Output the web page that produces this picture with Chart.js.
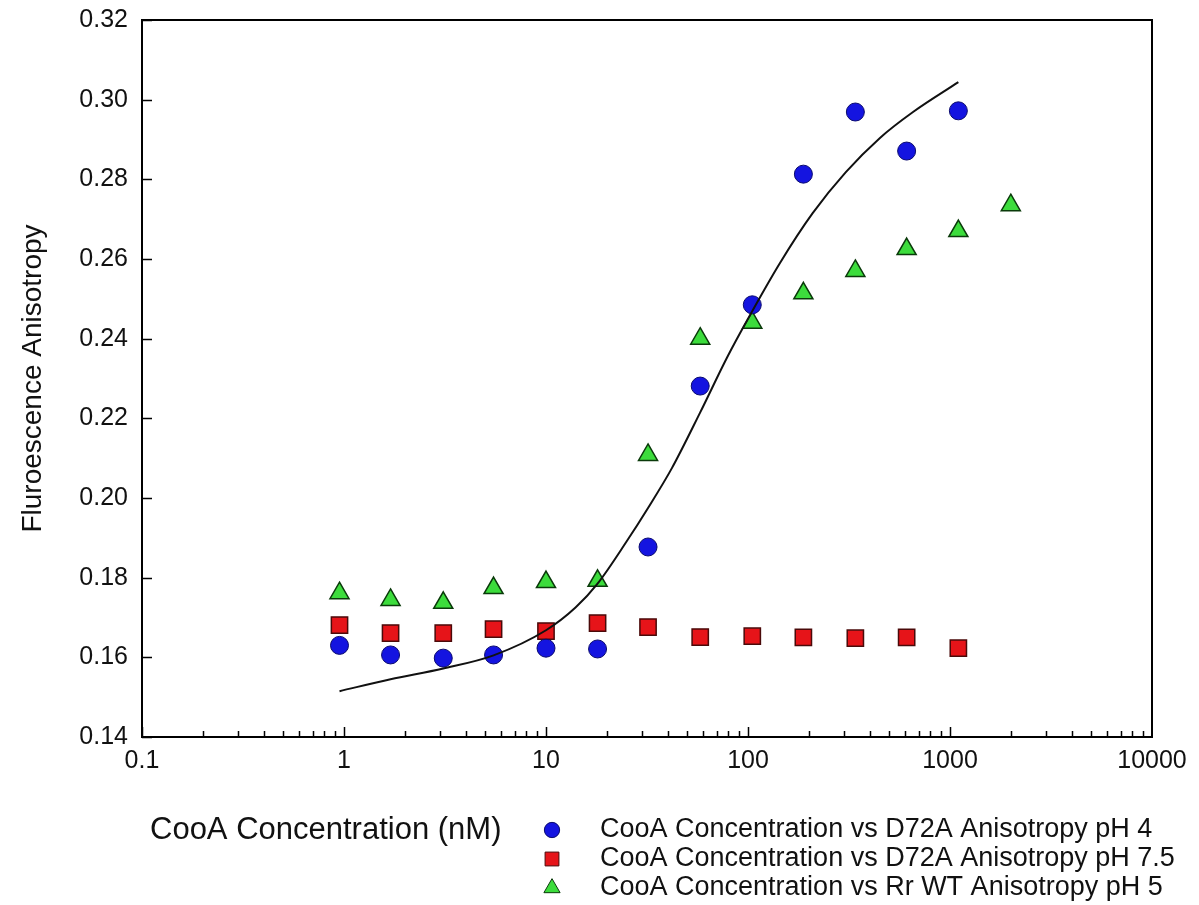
<!DOCTYPE html>
<html>
<head>
<meta charset="utf-8">
<script src="https://cdn.jsdelivr.net/npm/chart.js@4/dist/chart.umd.min.js"></script>
<style>
  html, body { margin: 0; padding: 0; background: #fff; }
</style>
</head>
<body>
<canvas id="myChart" width="1199" height="905"></canvas>
<script>
// concentrations (nM), dilution series
const conc = [0.95, 1.7, 3.1, 5.5, 10, 18, 32, 58, 105, 188, 340, 610, 1100];
const concWT = [0.95, 1.7, 3.1, 5.5, 10, 18, 32, 58, 105, 188, 340, 610, 1100, 2000];

const d72aPH4 = [0.1630, 0.1606, 0.1598, 0.1606, 0.1623, 0.1621, 0.1877, 0.2281, 0.2485, 0.2813, 0.2969, 0.2871, 0.2972];
const d72aPH75 = [0.1681, 0.1661, 0.1661, 0.1671, 0.1666, 0.1686, 0.1676, 0.1651, 0.1653, 0.1650, 0.1648, 0.1650, 0.1623];
const wtPH5 = [0.1761, 0.1744, 0.1737, 0.1774, 0.1789, 0.1792, 0.2108, 0.2400, 0.2440, 0.2514, 0.2570, 0.2625, 0.2670, 0.2735];

// fitted curve
const fitConc = [0.95, 1.7, 3.1, 5.5, 10, 14, 18, 25, 32, 42, 58, 79, 100, 144, 209, 305, 450, 656, 1100];
const fitAniso = [0.1515, 0.1545, 0.1572, 0.1605, 0.1668, 0.1725, 0.1785, 0.1890, 0.1975, 0.2075, 0.2215, 0.2354, 0.2450, 0.2590, 0.2715, 0.2818, 0.2904, 0.2969, 0.3044];

const xTicks = [0.1, 1, 10, 100, 1000, 10000];
const yTicks = [0.14, 0.16, 0.18, 0.20, 0.22, 0.24, 0.26, 0.28, 0.30, 0.32];

const legendLabels = [
  'CooA Concentration vs D72A Anisotropy pH 4',
  'CooA Concentration vs D72A Anisotropy pH 7.5',
  'CooA Concentration vs Rr WT Anisotropy pH 5'
];

function pts(xs, ys) {
  return xs.map((x, i) => ({ x: x, y: ys[i] }));
}

const framePlugin = {
  id: 'frame',
  afterDraw(chart) {
    const ctx = chart.ctx;
    const a = chart.chartArea;
    const xs = chart.scales.x;
    const ys = chart.scales.y;
    ctx.save();
    ctx.strokeStyle = '#000';
    ctx.lineWidth = 2;
    // top + right frame
    ctx.beginPath();
    ctx.moveTo(a.left, a.top);
    ctx.lineTo(a.right, a.top);
    ctx.lineTo(a.right, a.bottom);
    ctx.stroke();
    // inward ticks, y
    ctx.lineWidth = 1.5;
    ctx.beginPath();
    yTicks.forEach(v => {
      const py = Math.round(ys.getPixelForValue(v)) + 0.5;
      ctx.moveTo(a.left, py);
      ctx.lineTo(a.left + 10, py);
    });
    // inward ticks, x (decades long, the rest short)
    for (let d = 0.1; d < 10000; d *= 10) {
      for (let m = 1; m < 10; m++) {
        const v = d * m;
        const px = Math.round(xs.getPixelForValue(v)) + 0.5;
        const len = m === 1 ? 10 : 6;
        ctx.moveTo(px, a.bottom);
        ctx.lineTo(px, a.bottom - len);
      }
    }
    ctx.stroke();

    // x axis title + legend under the plot
    ctx.fillStyle = '#111';
    ctx.textBaseline = 'middle';
    ctx.textAlign = 'left';
    ctx.font = '31px "Liberation Sans", Arial, sans-serif';
    ctx.fillText('CooA Concentration (nM)', 150, 830);

    const rowY = [830, 859, 888];
    const sets = chart.data.datasets.filter(ds => ds.label !== 'fit');
    ctx.font = '27px "Liberation Sans", Arial, sans-serif';
    sets.forEach((ds, i) => {
      ctx.fillStyle = ds.backgroundColor;
      ctx.strokeStyle = ds.borderColor;
      ctx.lineWidth = 1;
      Chart.helpers.drawPoint(ctx, {
        pointStyle: ds.pointStyle,
        radius: ds.pointRadius * 0.85,
        rotation: 0,
        borderWidth: 1
      }, 552, rowY[i]);
      ctx.fillStyle = '#111';
      ctx.fillText(legendLabels[i], 600, rowY[i]);
    });
    ctx.restore();
  }
};

const ctx = document.getElementById('myChart');
const anisotropyChart = new Chart(ctx, {
  type: 'scatter',
  data: {
    datasets: [
      {
        label: 'fit',
        type: 'line',
        data: pts(fitConc, fitAniso),
        borderColor: '#111',
        borderWidth: 2,
        pointRadius: 0,
        cubicInterpolationMode: 'monotone',
        fill: false,
        order: 0
      },
      {
        label: legendLabels[0],
        data: pts(conc, d72aPH4),
        pointStyle: 'circle',
        pointRadius: 9,
        backgroundColor: '#1414e0',
        borderColor: '#0a0a6e',
        borderWidth: 1,
        order: 1
      },
      {
        label: legendLabels[1],
        data: pts(conc, d72aPH75),
        pointStyle: 'rect',
        pointRadius: 11.5,
        backgroundColor: '#e61419',
        borderColor: '#4a0a0a',
        borderWidth: 1.5,
        order: 1
      },
      {
        label: legendLabels[2],
        data: pts(concWT, wtPH5),
        pointStyle: 'triangle',
        pointRadius: 11,
        backgroundColor: '#3cdc3c',
        borderColor: '#0a3a0a',
        borderWidth: 1.5,
        order: 1
      }
    ]
  },
  options: {
    responsive: false,
    animation: false,
    devicePixelRatio: 1,
    layout: {
      padding: { top: 20, right: 47, bottom: 0, left: 0 }
    },
    plugins: {
      legend: { display: false },
      tooltip: { enabled: false }
    },
    scales: {
      x: {
        type: 'logarithmic',
        min: 0.1,
        max: 10000,
        afterBuildTicks: s => { s.ticks = xTicks.map(v => ({ value: v })); },
        afterFit: s => { s.height = 168; },
        ticks: {
          autoSkip: false,
          maxRotation: 0,
          padding: 9,
          color: '#111',
          font: { family: '"Liberation Sans", Arial', size: 25 },
          callback: v => String(v)
        },
        grid: { drawOnChartArea: false, drawTicks: false },
        border: { color: '#000', width: 2 }
      },
      y: {
        min: 0.14,
        max: 0.32,
        afterBuildTicks: s => { s.ticks = yTicks.map(v => ({ value: v })); },
        afterFit: s => { s.width = 142; s.paddingTop = 0; },
        ticks: {
          padding: 14,
          color: '#111',
          font: { family: '"Liberation Sans", Arial', size: 25, lineHeight: 1 },
          callback: v => v.toFixed(2)
        },
        title: {
          display: true,
          text: 'Fluroescence Anisotropy',
          color: '#111',
          font: { family: '"Liberation Sans", Arial', size: 28 },
          padding: { top: 16, bottom: 0 }
        },
        grid: { drawOnChartArea: false, drawTicks: false },
        border: { color: '#000', width: 2 }
      }
    }
  },
  plugins: [framePlugin]
});
</script>
</body>
</html>
